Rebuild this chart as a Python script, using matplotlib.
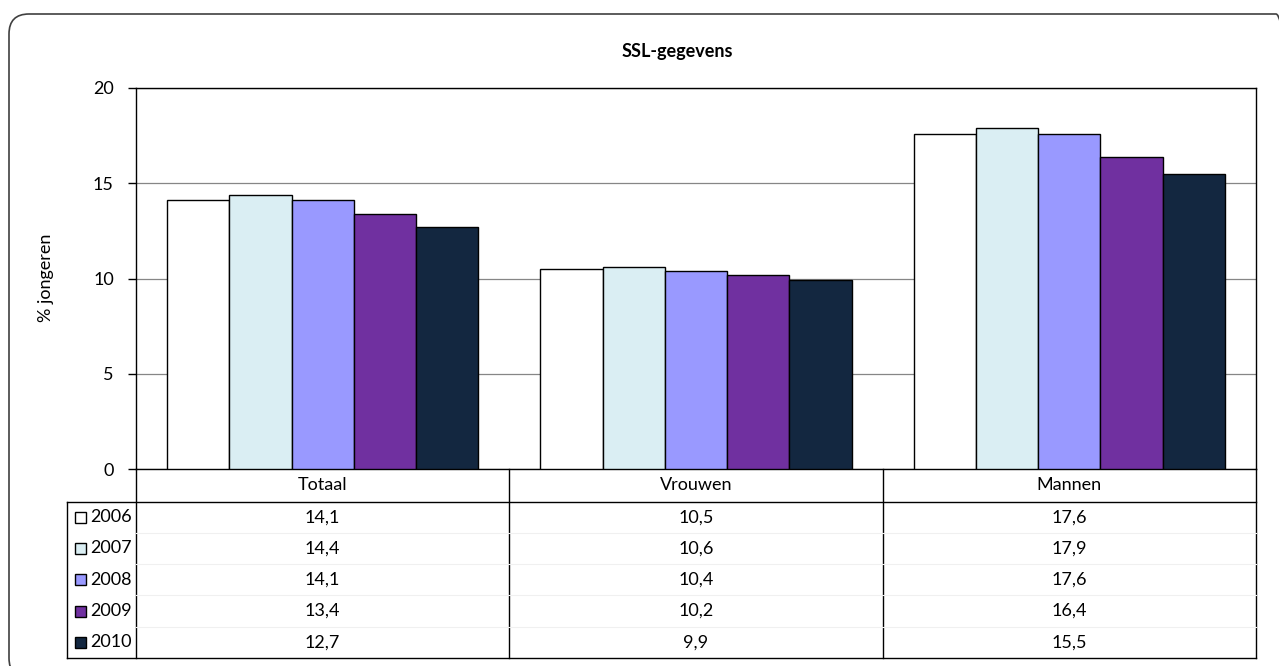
import matplotlib.pyplot as plt
import matplotlib.transforms as mtransforms
from matplotlib.patches import FancyBboxPatch, Rectangle
import numpy as np

# ---------------------------
# DATA
# ---------------------------

categories = ["Totaal", "Vrouwen", "Mannen"]
years = ["2006", "2007", "2008", "2009", "2010"]

v2006 = [14.1, 10.5, 17.6]
v2007 = [14.4, 10.6, 17.9]
v2008 = [14.1, 10.4, 17.6]
v2009 = [13.4, 10.2, 16.4]
v2010 = [12.7, 9.9, 15.5]
series = [v2006, v2007, v2008, v2009, v2010]

colors = ["#FFFFFF", "#DAEEF3", "#9999FF", "#7030A0", "#132740"]

plt.rcParams["font.family"] = ["Lato", "DejaVu Sans"]
FS = 13

W, H = 1279, 666
fig = plt.figure(figsize=(W / 100, H / 100), dpi=100)

def fx(px):
    return px / W

def fy(py):
    return 1 - py / H

# rounded chart frame, drawn in pixels (runs off the right and bottom edge)
pix = mtransforms.IdentityTransform()
frame = FancyBboxPatch((9, H - 678), 1296 - 9, 678 - 14,
                       boxstyle="round,pad=0,rounding_size=20",
                       transform=pix, fill=False,
                       edgecolor="#404040", linewidth=1.2)
fig.patches.append(frame)

# ---------------------------
# PLOT AREA
# ---------------------------

ax = fig.add_axes([fx(136), fy(469), fx(1256) - fx(136), fy(88) - fy(469)])

x = np.arange(len(categories))
bw = 1 / 6
for i, (vals, c) in enumerate(zip(series, colors)):
    ax.bar(x + (i - 2) * bw, vals, width=bw, color=c, edgecolor="black",
           linewidth=1.0, zorder=3)

ax.set_xlim(-0.5, 2.5)
ax.set_ylim(0, 20)
ax.set_yticks([0, 5, 10, 15, 20])
ax.yaxis.grid(True, color="#868686", linewidth=0.9, zorder=0)
ax.set_xticks([])
ax.tick_params(axis="y", direction="out", length=6, width=1, labelsize=FS,
               pad=10)
for s in ax.spines.values():
    s.set_linewidth(1.0)

fig.text(fx(46), fy(278), "% jongeren", rotation=90, ha="center",
         va="center", fontsize=FS)
fig.text(fx(677), fy(52), "SSL-gegevens", ha="center", va="center",
         fontsize=FS, fontweight="bold")

# ---------------------------
# DATA TABLE
# ---------------------------

trans = mtransforms.blended_transform_factory(ax.transData, fig.transFigure)
row_h = 31.3
header_top, header_bot = 469, 501.5
table_bot = header_bot + row_h * len(years)
left = 67

for xb in [-0.5, 0.5, 1.5, 2.5]:
    ax.plot([xb, xb], [fy(header_top), fy(table_bot)], transform=trans,
            color="black", linewidth=1.0, clip_on=False)


def hline(x0, x1, ypx, color="black", lw=1.0):
    fig.add_artist(plt.Line2D([fx(x0), fx(x1)], [fy(ypx), fy(ypx)],
                              transform=fig.transFigure, color=color,
                              linewidth=lw))


hline(left, 1256, header_bot)
hline(left, 1256, table_bot)
fig.add_artist(plt.Line2D([fx(left), fx(left)], [fy(header_bot), fy(table_bot)],
                          transform=fig.transFigure, color="black", linewidth=1.0))
for r in range(1, len(years)):
    hline(136, 1256, header_bot + r * row_h, color="#F0F0F0", lw=0.8)

for xi, cat in zip(x, categories):
    ax.text(xi, fy((header_top + header_bot) / 2), cat, transform=trans,
            ha="center", va="center", fontsize=FS, clip_on=False)

for r, (yr, vals, c) in enumerate(zip(years, series, colors)):
    yc = fy(header_bot + (r + 0.5) * row_h)
    for xi, v in zip(x, vals):
        ax.text(xi, yc, f"{v:.1f}".replace(".", ","), transform=trans,
                ha="center", va="center", fontsize=FS, clip_on=False)
    fig.patches.append(Rectangle((fx(75), yc - 5.5 / H), 11 / W, 11 / H,
                                 transform=fig.transFigure, facecolor=c,
                                 edgecolor="black", linewidth=1.0))
    fig.text(fx(90), yc, yr, ha="left", va="center", fontsize=FS)

fig.savefig("out.png", dpi=100)
